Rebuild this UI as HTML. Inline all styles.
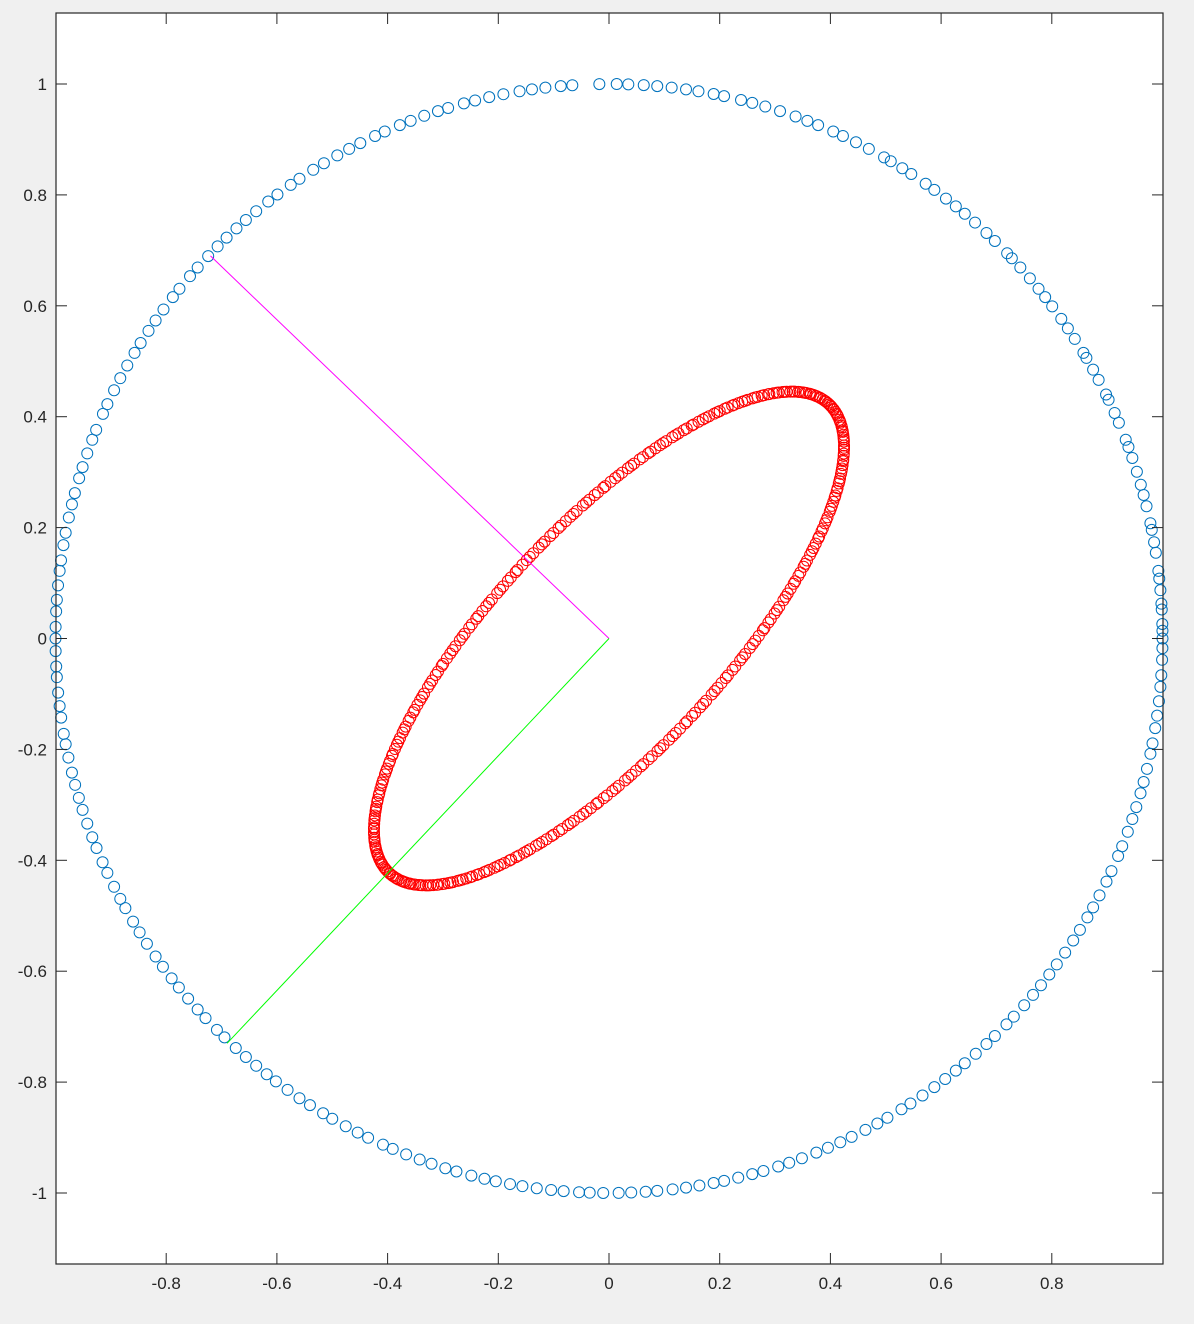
<!DOCTYPE html>
<html><head><meta charset="utf-8"><style>
html,body{margin:0;padding:0;background:#f0f0f0;}
svg{display:block;}
text{font-family:"Liberation Sans",sans-serif;font-size:17px;fill:#262626;}
</style></head><body>
<svg id="chart" width="1194" height="1324">
<rect x="56" y="13" width="1107" height="1251" fill="#fff"/>
<g id="marks"></g>
<g id="axes"></g>
</svg>
<script>
const xTicks=[-0.8,-0.6,-0.4,-0.2,0,0.2,0.4,0.6,0.8];
const xTickLabels=["-0.8","-0.6","-0.4","-0.2","0","0.2","0.4","0.6","0.8"];
const yTicks=[-1,-0.8,-0.6,-0.4,-0.2,0,0.2,0.4,0.6,0.8,1];
const yTickLabels=["-1","-0.8","-0.6","-0.4","-0.2","0","0.2","0.4","0.6","0.8","1"];
const blueAngles=[0,0.8,1.5,3,3.6,5,6.2,7,8.9,10,11.3,12,13.8,15,16.1,17.5,19,20.2,21,22.9,24,25.5,26.1,27.8,29,30.4,31,32.7,34,35.2,36.8,38,39.1,40.5,42,43.3,44,45.8,47,48.6,50,51.2,52.5,54,55.1,56.9,58,59.4,60.2,62,63.5,65,66.1,67.8,69,70.3,72,73.6,75,76.2,78,79.1,80.7,82,83.5,85,86.4,88,89.2,91,93.8,95,96.6,98,99.3,101,102.5,104,105.2,106.9,108,109.5,111,112.2,113.9,115,116.7,118,119.4,121,122.3,124,125.1,126.8,128,129.6,131,132.3,133.7,135,136.4,138,139.2,140.9,142,143.6,145,146.3,147.8,149,150.5,152,153.4,155,156.1,157.9,159,160.5,162,163.2,164.8,166,167.4,169,170.3,171.9,173,174.5,176,177.2,178.8,180,181.3,182.9,184,185.6,187,188.2,189.9,191,192.4,194,195.3,196.7,198,199.5,201,202.2,203.8,205,206.6,208,209.1,210.7,212,213.4,215,216.3,217.8,219,220.5,222,223.2,224.9,226,227.6,229,230.4,231.8,233,234.5,236,237.3,238.9,240,241.6,243,244.2,245.9,247,248.5,250,251.3,252.8,254,255.6,257,258.2,259.7,261,262.5,264,265.3,266.9,268,269.4,271,272.3,273.8,275,276.6,278,279.4,280.9,282,283.5,285,286.2,287.8,289,290.4,292,293.3,294.7,296,297.6,299,300.2,301.9,303,304.5,306,307.4,308.8,310,311.5,313,314.2,315.9,317,318.6,320,321.3,322.7,324,325.5,327,328.3,329.8,331,332.4,334,335.2,336.9,338,339.6,341,342.3,343.8,345,346.4,348,349.1,350.7,352,353.5,355,356.2,357.8,359];
const redParams=[0,1.1,2.3,3,4.2,5.4,6,7.3,8.1,9.2,10.4,11,12.5,13.2,14.1,15.3,16,17.4,18.2,19.1,20.5,21.3,22,23.4,24.1,25.2,26.6,27,28.3,29.1,30.4,31.2,32,33.5,34.3,35.1,36.2,37.4,38,39.3,40.1,41.5,42.2,43,44.4,45.3,46.1,47.2,48.5,49,50.3,51.1,52.4,53.2,54,55.5,56.3,57.1,58.2,59.4,60,61.3,62.1,63.5,64.2,65,66.4,67.3,68.1,69.2,70.5,71,72.3,73.1,74.4,75.2,76,77.5,78.3,79.1,80.2,81.4,82,83.3,84.1,85.5,86.2,87,88.4,89.3,90.1,91.2,92.5,93,94.3,95.1,96.4,97.2,98,99.5,100.3,101.1,102.2,103.4,104,105.3,106.1,107.5,108.2,109,110.4,111.3,112.1,113.2,114.5,115,116.3,117.1,118.4,119.2,120,121.5,122.3,123.1,124.2,125.4,126,127.3,128.1,129.5,130.2,131,132.4,133.3,134.1,135.2,136.5,137,138.3,139.1,140.4,141.2,142,143.5,144.3,145.1,146.2,147.4,148,149.3,150.1,151.5,152.2,153,154.4,155.3,156.1,157.2,158.5,159,160.3,161.1,162.4,163.2,164,165.5,166.3,167.1,168.2,169.4,170,171.3,172.1,173.5,174.2,175,176.4,177.3,178.1,179.2,180.5,181,182.3,183.1,184.4,185.2,186,187.5,188.3,189.1,190.2,191.4,192,193.3,194.1,195.5,196.2,197,198.4,199.3,200.1,201.2,202.5,203,204.3,205.1,206.4,207.2,208,209.5,210.3,211.1,212.2,213.4,214,215.3,216.1,217.5,218.2,219,220.4,221.3,222.1,223.2,224.5,225,226.3,227.1,228.4,229.2,230,231.5,232.3,233.1,234.2,235.4,236,237.3,238.1,239.5,240.2,241,242.4,243.3,244.1,245.2,246.5,247,248.3,249.1,250.4,251.2,252,253.5,254.3,255.1,256.2,257.4,258,259.3,260.1,261.5,262.2,263,264.4,265.3,266.1,267.2,268.5,269,270.3,271.1,272.4,273.2,274,275.5,276.3,277.1,278.2,279.4,280,281.3,282.1,283.5,284.2,285,286.4,287.3,288.1,289.2,290.5,291,292.3,293.1,294.4,295.2,296,297.5,298.3,299.1,300.2,301.4,302,303.3,304.1,305.5,306.2,307,308.4,309.3,310.1,311.2,312.5,313,314.3,315.1,316.4,317.2,318,319.5,320.3,321.1,322.2,323.4,324,325.3,326.1,327.5,328.2,329,330.4,331.3,332.1,333.2,334.5,335,336.3,337.1,338.4,339.2,340,341.5,342.3,343.1,344.2,345.4,346,347.3,348.1,349.5,350.2,351,352.4,353.3,354.1,355.2,356.5,357,358.3,359.1];
const majorAxis=[0.398,0.422];
const minorAxis=[-0.148,0.142];
const vec1=[-0.72,0.69];
const vec2=[-0.69,-0.73];

const NS="http://www.w3.org/2000/svg";
const X=v=>609+v*553.5;
const Y=v=>638.5-v*554.5;
const marks=document.getElementById('marks');
const axes=document.getElementById('axes');
function mk(tag,attrs,parent){const e=document.createElementNS(NS,tag);for(const k in attrs)e.setAttribute(k,attrs[k]);parent.appendChild(e);return e;}

blueAngles.forEach(a=>{const r=a*Math.PI/180;
 const c=mk('circle',{cx:X(Math.cos(r)),cy:Y(Math.sin(r)),r:5.5,fill:'none',stroke:'#0072BD','stroke-width':1},marks);
 
 });
redParams.forEach(a=>{const t=a*Math.PI/180;
 const x=majorAxis[0]*Math.cos(t)+minorAxis[0]*Math.sin(t);
 const y=majorAxis[1]*Math.cos(t)+minorAxis[1]*Math.sin(t);
 const c=mk('circle',{cx:X(x),cy:Y(y),r:5.5,fill:'none',stroke:'#ff0000','stroke-width':1},marks);
 
 });
const l1=mk('line',{x1:X(0),y1:Y(0),x2:X(vec1[0]),y2:Y(vec1[1]),stroke:'#ff00ff','stroke-width':1},marks);


const l2=mk('line',{x1:X(0),y1:Y(0),x2:X(vec2[0]),y2:Y(vec2[1]),stroke:'#00ff00','stroke-width':1},marks);



const box=mk('rect',{x:56,y:13,width:1107,height:1251,fill:'none',stroke:'#262626','stroke-width':1.2},axes);


xTicks.forEach((v,i)=>{const x=X(v);
 mk('line',{x1:x,y1:1264,x2:x,y2:1253,stroke:'#262626'},axes);
 mk('line',{x1:x,y1:13,x2:x,y2:24,stroke:'#262626'},axes);
 const t=mk('text',{x:x,y:1289,'text-anchor':'middle'},axes);t.textContent=xTickLabels[i];
 
 });
yTicks.forEach((v,i)=>{const y=Y(v);
 mk('line',{x1:56,y1:y,x2:67,y2:y,stroke:'#262626'},axes);
 mk('line',{x1:1163,y1:y,x2:1152,y2:y,stroke:'#262626'},axes);
 const t=mk('text',{x:47,y:y+6,'text-anchor':'end'},axes);t.textContent=yTickLabels[i];
 
 });
</script>
</body></html>
